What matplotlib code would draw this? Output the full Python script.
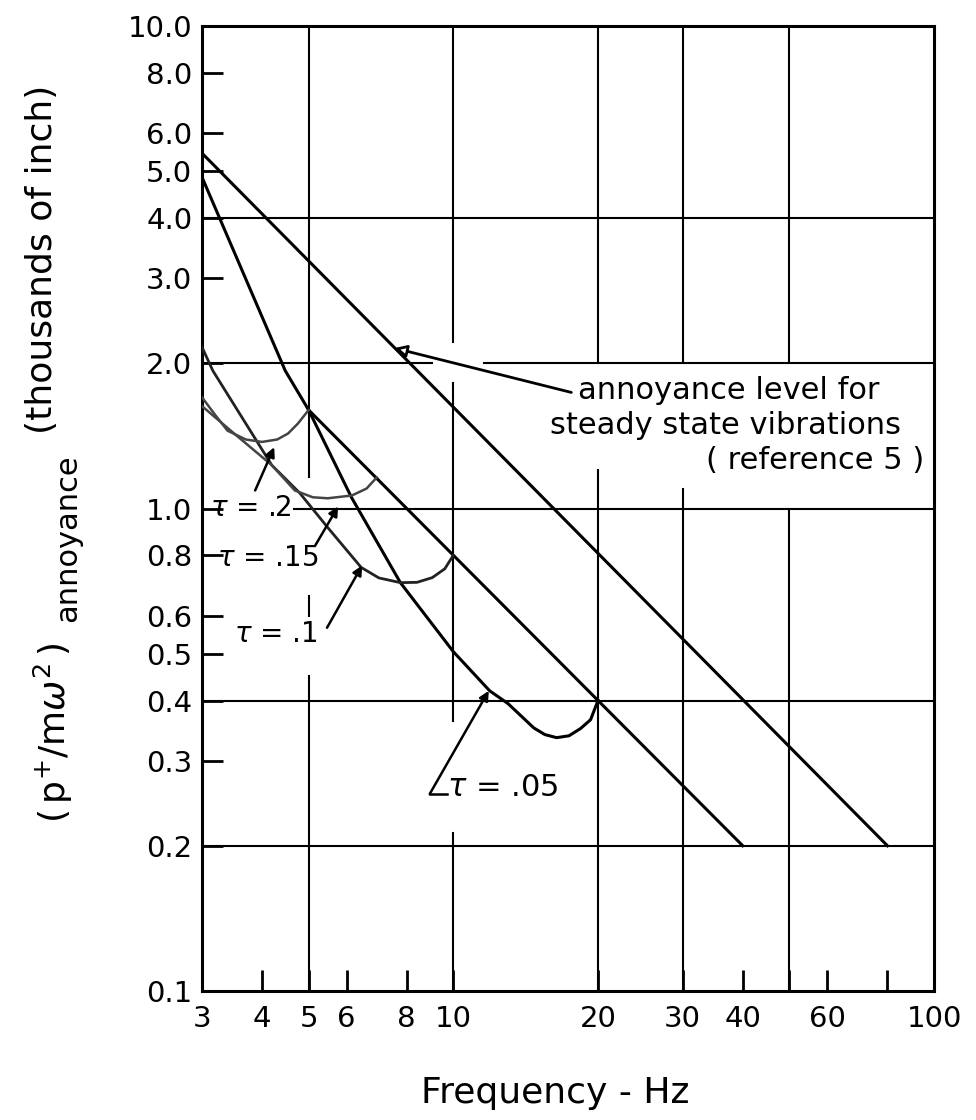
import matplotlib
matplotlib.use('Agg')
import matplotlib.pyplot as plt
from matplotlib.ticker import FixedLocator, FixedFormatter, NullLocator

# values (frequency in Hz, response in thousands of inch)
freq_annoy = [3.0, 80.0]
resp_annoy = [5.45, 0.20]

freq_env = [5.0, 40.0]
resp_env = [1.60, 0.20]

freq_t05 = [3.0, 4.47, 5.0, 6.14, 7.76, 10.0, 11.9, 13.0, 14.7, 15.5, 16.4,
            17.4, 18.4, 19.3, 20.0]
resp_t05 = [4.86, 1.93, 1.60, 1.054, 0.702, 0.505, 0.419, 0.394, 0.351, 0.340,
            0.335, 0.338, 0.350, 0.365, 0.40]

freq_t10 = [3.0, 3.16, 4.19, 4.79, 5.48, 6.43, 7.0, 7.76, 8.4, 9.04, 9.6, 10.0]
resp_t10 = [2.16, 1.93, 1.23, 1.077, 0.913, 0.755, 0.718, 0.702, 0.703, 0.719,
            0.75, 0.80]

freq_t15 = [3.0, 3.50, 4.19, 4.68, 5.1, 5.48, 6.15, 6.6, 6.93]
resp_t15 = [1.63, 1.43, 1.23, 1.09, 1.055, 1.05, 1.064, 1.10, 1.16]

freq_t20 = [3.0, 3.2, 3.39, 3.7, 4.0, 4.3, 4.53, 4.75, 5.0]
resp_t20 = [1.70, 1.56, 1.45, 1.39, 1.374, 1.39, 1.43, 1.50, 1.60]

y_ticks = [0.1, 0.2, 0.3, 0.4, 0.5, 0.6, 0.8, 1, 2, 3, 4, 5, 6, 8, 10]
y_labels = ['0.1', '0.2', '0.3', '0.4', '0.5', '0.6', '0.8', '1.0',
            '2.0', '3.0', '4.0', '5.0', '6.0', '8.0', '10.0']
x_ticks = [3, 4, 5, 6, 8, 10, 20, 30, 40, 50, 60, 80, 100]
x_labels = ['3', '4', '5', '6', '8', '10', '20', '30', '40', '', '60', '', '100']

tau_labels = [r'$\tau$ = .2', r'$\tau$ = .15', r'$\tau$ = .1', r'$\tau$ = .05']
tau_text_pos = [(3.12, 1.0), (3.23, 0.79), (3.50, 0.55), (9.69, 0.264)]
tau_text_size = [20, 20, 20, 22]
tau_arrow_tail = [(3.87, 1.09), (5.16, 0.838), (5.46, 0.566), (8.93, 0.256)]
tau_arrow_head = [(4.24, 1.34), (5.76, 1.01), (6.46, 0.762), (11.85, 0.419)]

# grid lines drawn by hand, with the gaps left where leaders and notes cross
grid_v = {5: [(0.1, 0.45), (0.60, 0.66), (1.16, 10)],
          10: [(0.1, 0.213), (0.363, 1.82), (2.21, 10)],
          20: [(0.1, 1.2), (2.0, 10)],
          30: [(0.1, 1.1), (2.0, 10)],
          50: [(0.1, 1.0), (2.0, 10)]}
grid_h = {4: [(3, 100)], 2: [(3, 9.03), (11.6, 100)], 1: [(4.67, 100)],
          0.4: [(3, 100)], 0.2: [(3, 100)]}

plt.rcParams['font.family'] = ['DejaVu Sans']
plt.rcParams['mathtext.fontset'] = 'dejavusans'

fig = plt.figure(figsize=(9.76, 11.2), dpi=100)
ax = fig.add_axes([202 / 976, 1 - 991 / 1120, 732 / 976, 965 / 1120])
ax.set_xscale('log')
ax.set_yscale('log')
ax.set_xlim(3, 100)
ax.set_ylim(0.1, 10)

for xv, spans in grid_v.items():
    for y0, y1 in spans:
        ax.plot([xv, xv], [y0, y1], color='black', lw=1.5, zorder=1)
for yv, spans in grid_h.items():
    for x0, x1 in spans:
        ax.plot([x0, x1], [yv, yv], color='black', lw=1.5, zorder=1)

ax.plot(freq_annoy, resp_annoy, color='black', lw=2.2, zorder=3)
ax.plot(freq_env, resp_env, color='black', lw=2.2, zorder=3)
ax.plot(freq_t05, resp_t05, color='black', lw=2.2, zorder=3)
ax.plot(freq_t10, resp_t10, color='#222222', lw=2.0, zorder=3)
ax.plot(freq_t15, resp_t15, color='#444444', lw=1.8, zorder=3)
ax.plot(freq_t20, resp_t20, color='#444444', lw=1.8, zorder=3)

for lab, pos, fs, tail, head in zip(tau_labels, tau_text_pos, tau_text_size,
                                     tau_arrow_tail, tau_arrow_head):
    ax.text(pos[0], pos[1], lab, fontsize=fs, ha='left', va='center', zorder=4)
    ax.annotate('', xy=head, xytext=tail,
                arrowprops=dict(arrowstyle='-|>', color='black', lw=1.8,
                                mutation_scale=14, shrinkA=0, shrinkB=0))
# little foot of the .05 leader
ax.plot([tau_arrow_tail[3][0], tau_text_pos[3][0]], [tau_arrow_tail[3][1]] * 2,
        color='black', lw=1.8)

ax.annotate('', xy=(7.54, 2.15), xytext=(17.6, 1.74),
            arrowprops=dict(arrowstyle='-|>', color='black', lw=2.0,
                            mutation_scale=18, shrinkA=0, shrinkB=0,
                            fc='white'))
ax.text(18.2, 1.757, 'annoyance level for', fontsize=22, ha='left', va='center')
ax.text(85.5, 1.486, 'steady state vibrations', fontsize=22, ha='right', va='center')
ax.text(95.6, 1.258, '( reference 5 )', fontsize=22, ha='right', va='center')

ax.xaxis.set_major_locator(FixedLocator(x_ticks))
ax.xaxis.set_major_formatter(FixedFormatter(x_labels))
ax.xaxis.set_minor_locator(NullLocator())
ax.yaxis.set_major_locator(FixedLocator(y_ticks))
ax.yaxis.set_major_formatter(FixedFormatter(y_labels))
ax.yaxis.set_minor_locator(NullLocator())
ax.tick_params(axis='both', direction='in', length=15, width=2, labelsize=21)
ax.tick_params(axis='x', pad=10)
ax.tick_params(axis='y', pad=7)
for sp in ax.spines.values():
    sp.set_linewidth(2.2)

ax.set_xlabel('Frequency - Hz', fontsize=26)
ax.xaxis.set_label_coords(0.482, -0.106)
ax.xaxis.label.set_va('center')

# y axis title in three pieces: main symbol, subscript, units
fig.text(53 / 976, 1 - 642 / 1120, r'$(\,\mathrm{p}^{+}/\mathrm{m}\omega^{2}\,)$',
         rotation=90, ha='center', va='top', fontsize=26)
fig.text(68 / 976, 1 - 622 / 1120, 'annoyance', rotation=90,
         ha='center', va='bottom', fontsize=22)
fig.text(42 / 976, 1 - 85 / 1120, '(thousands of inch)', rotation=90,
         ha='center', va='top', fontsize=26)

fig.savefig('out.png', dpi=100, facecolor='white')
